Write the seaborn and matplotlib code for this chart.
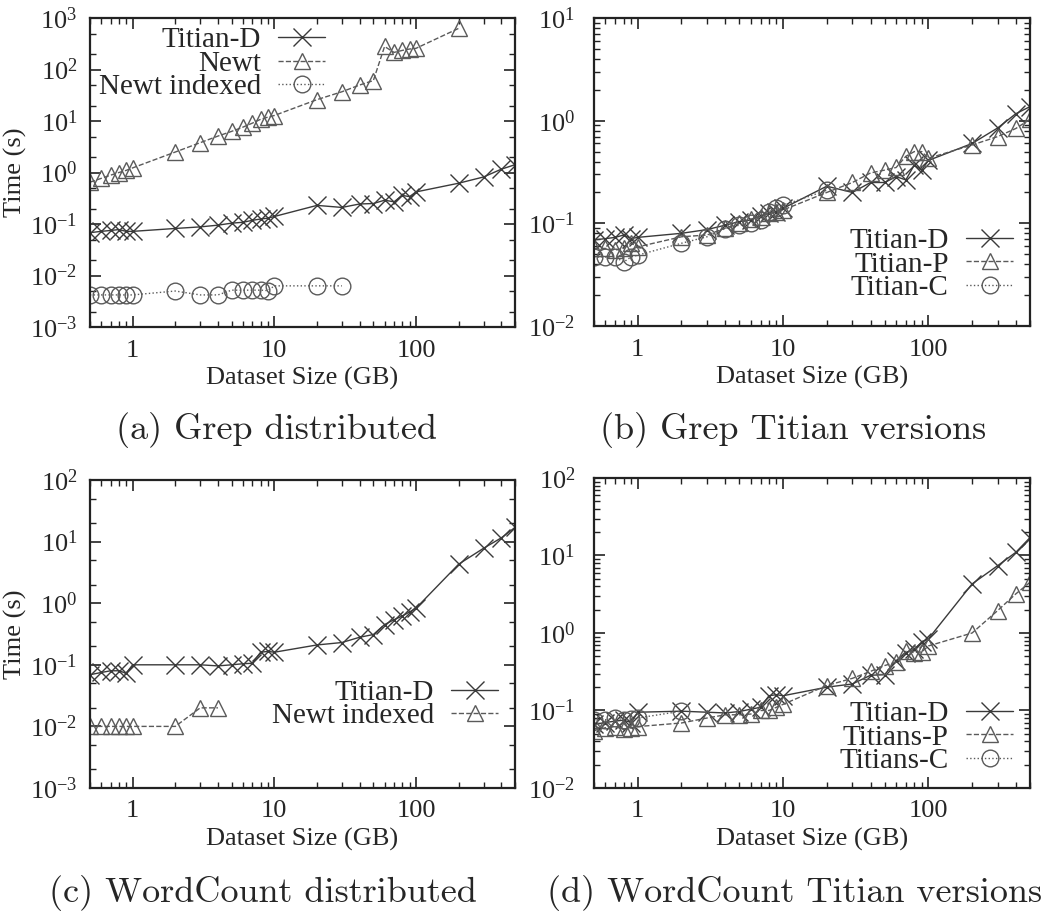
import numpy as np
import matplotlib
matplotlib.use('Agg')
import matplotlib.pyplot as plt
import matplotlib.ticker as mticker
import seaborn as sns

# dataset sizes (GB), shared by every series (series are truncated prefixes)
sizes = [0.5, 0.6, 0.7, 0.8, 0.9, 1, 2, 3, 4, 5, 6, 7, 8, 9, 10,
         20, 30, 40, 50, 60, 70, 80, 90, 100, 200, 300, 400, 500]

# (a) Grep distributed
grep_titian_d = [0.068, 0.072, 0.075, 0.078, 0.072, 0.072, 0.082, 0.088, 0.095, 0.104,
                 0.108, 0.118, 0.125, 0.13, 0.14, 0.23, 0.21, 0.245, 0.25, 0.29,
                 0.27, 0.36, 0.34, 0.42, 0.62, 0.82, 1.16, 1.42]
grep_newt = [0.65, 0.77, 0.89, 1.0, 1.1, 1.23, 2.5, 3.8, 5.1, 6.3, 7.6, 9.1, 10.8,
             11.9, 12.8, 26, 37, 50, 61, 280, 215, 235, 250, 258, 630]
grep_newt_idx = [0.0042, 0.0042, 0.0042, 0.0042, 0.0042, 0.0042, 0.005, 0.0042, 0.0042,
                 0.0052, 0.0052, 0.0052, 0.0052, 0.0051, 0.0063, 0.0063, 0.0063]

# (b) Grep Titian versions
grep_b_titian_d = [0.069, 0.071, 0.073, 0.077, 0.071, 0.073, 0.08, 0.087, 0.096, 0.104,
                   0.108, 0.118, 0.125, 0.13, 0.14, 0.23, 0.2, 0.25, 0.25, 0.285,
                   0.265, 0.37, 0.33, 0.41, 0.6, 0.85, 1.17, 1.37]
grep_b_titian_p = [0.057, 0.057, 0.055, 0.057, 0.064, 0.059, 0.074, 0.077, 0.09, 0.1,
                   0.11, 0.116, 0.125, 0.13, 0.135, 0.2, 0.25, 0.31, 0.33, 0.35,
                   0.45, 0.5, 0.5, 0.43, 0.58, 0.7, 0.84, 1.03]
grep_b_titian_c = [0.047, 0.047, 0.047, 0.042, 0.047, 0.049, 0.064, 0.074, 0.089, 0.096,
                   0.1, 0.108, 0.13, 0.14, 0.15, 0.21]

# (c) WordCount distributed
wc_titian_d = [0.069, 0.075, 0.08, 0.08, 0.073, 0.1, 0.1, 0.1, 0.096, 0.1,
               0.104, 0.106, 0.16, 0.165, 0.16, 0.21, 0.23, 0.28, 0.31, 0.45,
               0.54, 0.62, 0.72, 0.83, 4.3, 7.8, 11.5, 17]
wc_newt_idx = [0.01, 0.01, 0.01, 0.01, 0.01, 0.01, 0.01, 0.02, 0.02]

# (d) WordCount Titian versions
wc_d_titian_d = [0.066, 0.07, 0.073, 0.075, 0.07, 0.095, 0.098, 0.095, 0.093, 0.097,
                 0.104, 0.11, 0.155, 0.16, 0.155, 0.2, 0.22, 0.285, 0.29, 0.44,
                 0.56, 0.62, 0.76, 0.84, 4.3, 7.4, 11, 17]
wc_d_titian_p = [0.055, 0.06, 0.062, 0.057, 0.06, 0.062, 0.069, 0.08, 0.088, 0.088,
                 0.09, 0.1, 0.1, 0.11, 0.12, 0.21, 0.26, 0.32, 0.38, 0.42,
                 0.58, 0.56, 0.57, 0.68, 1.0, 1.95, 3.2, 4.5]
wc_d_titian_c = [0.076, 0.076, 0.08, 0.076, 0.078, 0.08, 0.098]

x_ticks = [1, 10, 100]
x_tick_labels = ['1', '10', '100']
captions = ['(a) Grep distributed', '(b) Grep Titian versions',
            '(c) WordCount distributed', '(d) WordCount Titian versions']

sns.set_style('ticks')
plt.rcParams['font.family'] = ['Liberation Serif', 'DejaVu Serif']
plt.rcParams['mathtext.fontset'] = 'custom'
plt.rcParams['mathtext.rm'] = 'Liberation Serif'
plt.rcParams['mathtext.it'] = 'Liberation Serif:italic'

FS = 19
LEG_FS = 21

STYLES = {
    'x': dict(marker='x', linestyle='-', color='#3a3a3a', markersize=13),
    '^': dict(marker='^', linestyle='--', color='#5a5a5a', markersize=11),
    'o': dict(marker='o', linestyle=':', color='#5a5a5a', markersize=12),
}


def draw(ax, y, label, kind):
    st = STYLES[kind]
    sns.lineplot(x=sizes[:len(y)], y=y, ax=ax, label=label,
                 marker=st['marker'], linestyle=st['linestyle'], color=st['color'],
                 markersize=st['markersize'], markerfacecolor='none',
                 markeredgecolor=st['color'], markeredgewidth=1.0, linewidth=1.0,
                 sort=False, estimator=None)


def style_axis(ax, ylim, ysubs, ylabel, ypad):
    ax.set_xscale('log')
    ax.set_yscale('log')
    ax.set_xlim(0.5, 500)
    ax.set_ylim(*ylim)
    ax.set_xticks(x_ticks)
    ax.set_xticklabels(x_tick_labels)
    ax.xaxis.set_minor_locator(mticker.LogLocator(base=10, subs=np.arange(2, 10)))
    ax.xaxis.set_minor_formatter(mticker.NullFormatter())
    ax.yaxis.set_major_locator(mticker.LogLocator(base=10, numticks=10))
    ax.yaxis.set_major_formatter(mticker.LogFormatterMathtext())
    ax.yaxis.set_minor_locator(mticker.LogLocator(base=10, subs=ysubs, numticks=20))
    ax.yaxis.set_minor_formatter(mticker.NullFormatter())
    ax.tick_params(which='both', direction='in', top=True, right=True,
                   labelsize=FS, pad=9, color='#222222')
    ax.tick_params(axis='y', which='both', pad=ypad)
    ax.tick_params(which='major', length=8, width=1.2)
    ax.tick_params(which='minor', length=4, width=1.0)
    for s in ax.spines.values():
        s.set_linewidth(1.6)
        s.set_color('#222222')
    ax.set_xlabel('Dataset Size (GB)', fontsize=FS, labelpad=4)
    if ylabel:
        ax.set_ylabel('Time (s)', fontsize=FS, labelpad=2)
    else:
        ax.set_ylabel('')


def legend(ax, loc, anchor):
    ax.legend(loc=loc, bbox_to_anchor=anchor, frameon=False, fontsize=LEG_FS,
              markerfirst=False, numpoints=1, handlelength=1.6,
              handletextpad=0.6, labelspacing=-0.1, borderaxespad=0, borderpad=0)


fig = plt.figure(figsize=(10.5, 9.15), dpi=100)
ax_a = fig.add_axes([0.0857, 0.6426, 0.4048, 0.3377])
ax_b = fig.add_axes([0.5657, 0.6437, 0.4152, 0.3366])
ax_c = fig.add_axes([0.0857, 0.1388, 0.4048, 0.3366])
ax_d = fig.add_axes([0.5657, 0.1388, 0.4152, 0.3388])

draw(ax_a, grep_titian_d, 'Titian-D', 'x')
draw(ax_a, grep_newt, 'Newt', '^')
draw(ax_a, grep_newt_idx, 'Newt indexed', 'o')
style_axis(ax_a, (1e-3, 1e3), (2, 5), True, 9)
legend(ax_a, 'upper right', (0.553, 0.971))

draw(ax_b, grep_b_titian_d, 'Titian-D', 'x')
draw(ax_b, grep_b_titian_p, 'Titian-P', '^')
draw(ax_b, grep_b_titian_c, 'Titian-C', 'o')
style_axis(ax_b, (1e-2, 1e1), np.arange(2, 10), False, 13.5)
legend(ax_b, 'lower right', (0.961, 0.081))

draw(ax_c, wc_titian_d, 'Titian-D', 'x')
draw(ax_c, wc_newt_idx, 'Newt indexed', '^')
style_axis(ax_c, (1e-3, 1e2), (2, 5), True, 9)
legend(ax_c, 'lower right', (0.96, 0.19))

draw(ax_d, wc_d_titian_d, 'Titian-D', 'x')
draw(ax_d, wc_d_titian_p, 'Titians-P', '^')
draw(ax_d, wc_d_titian_c, 'Titians-C', 'o')
style_axis(ax_d, (1e-2, 1e2), np.arange(2, 10), False, 13.5)
legend(ax_d, 'lower right', (0.961, 0.045))

cap_pos = [(0.263, 0.530), (0.755, 0.530), (0.25, 0.024), (0.757, 0.024)]
for (cx, cy), text in zip(cap_pos, captions):
    fig.text(cx, cy, text, ha='center', va='center', fontsize=26, family='cmr10')

fig.savefig('out.png', dpi=100)
